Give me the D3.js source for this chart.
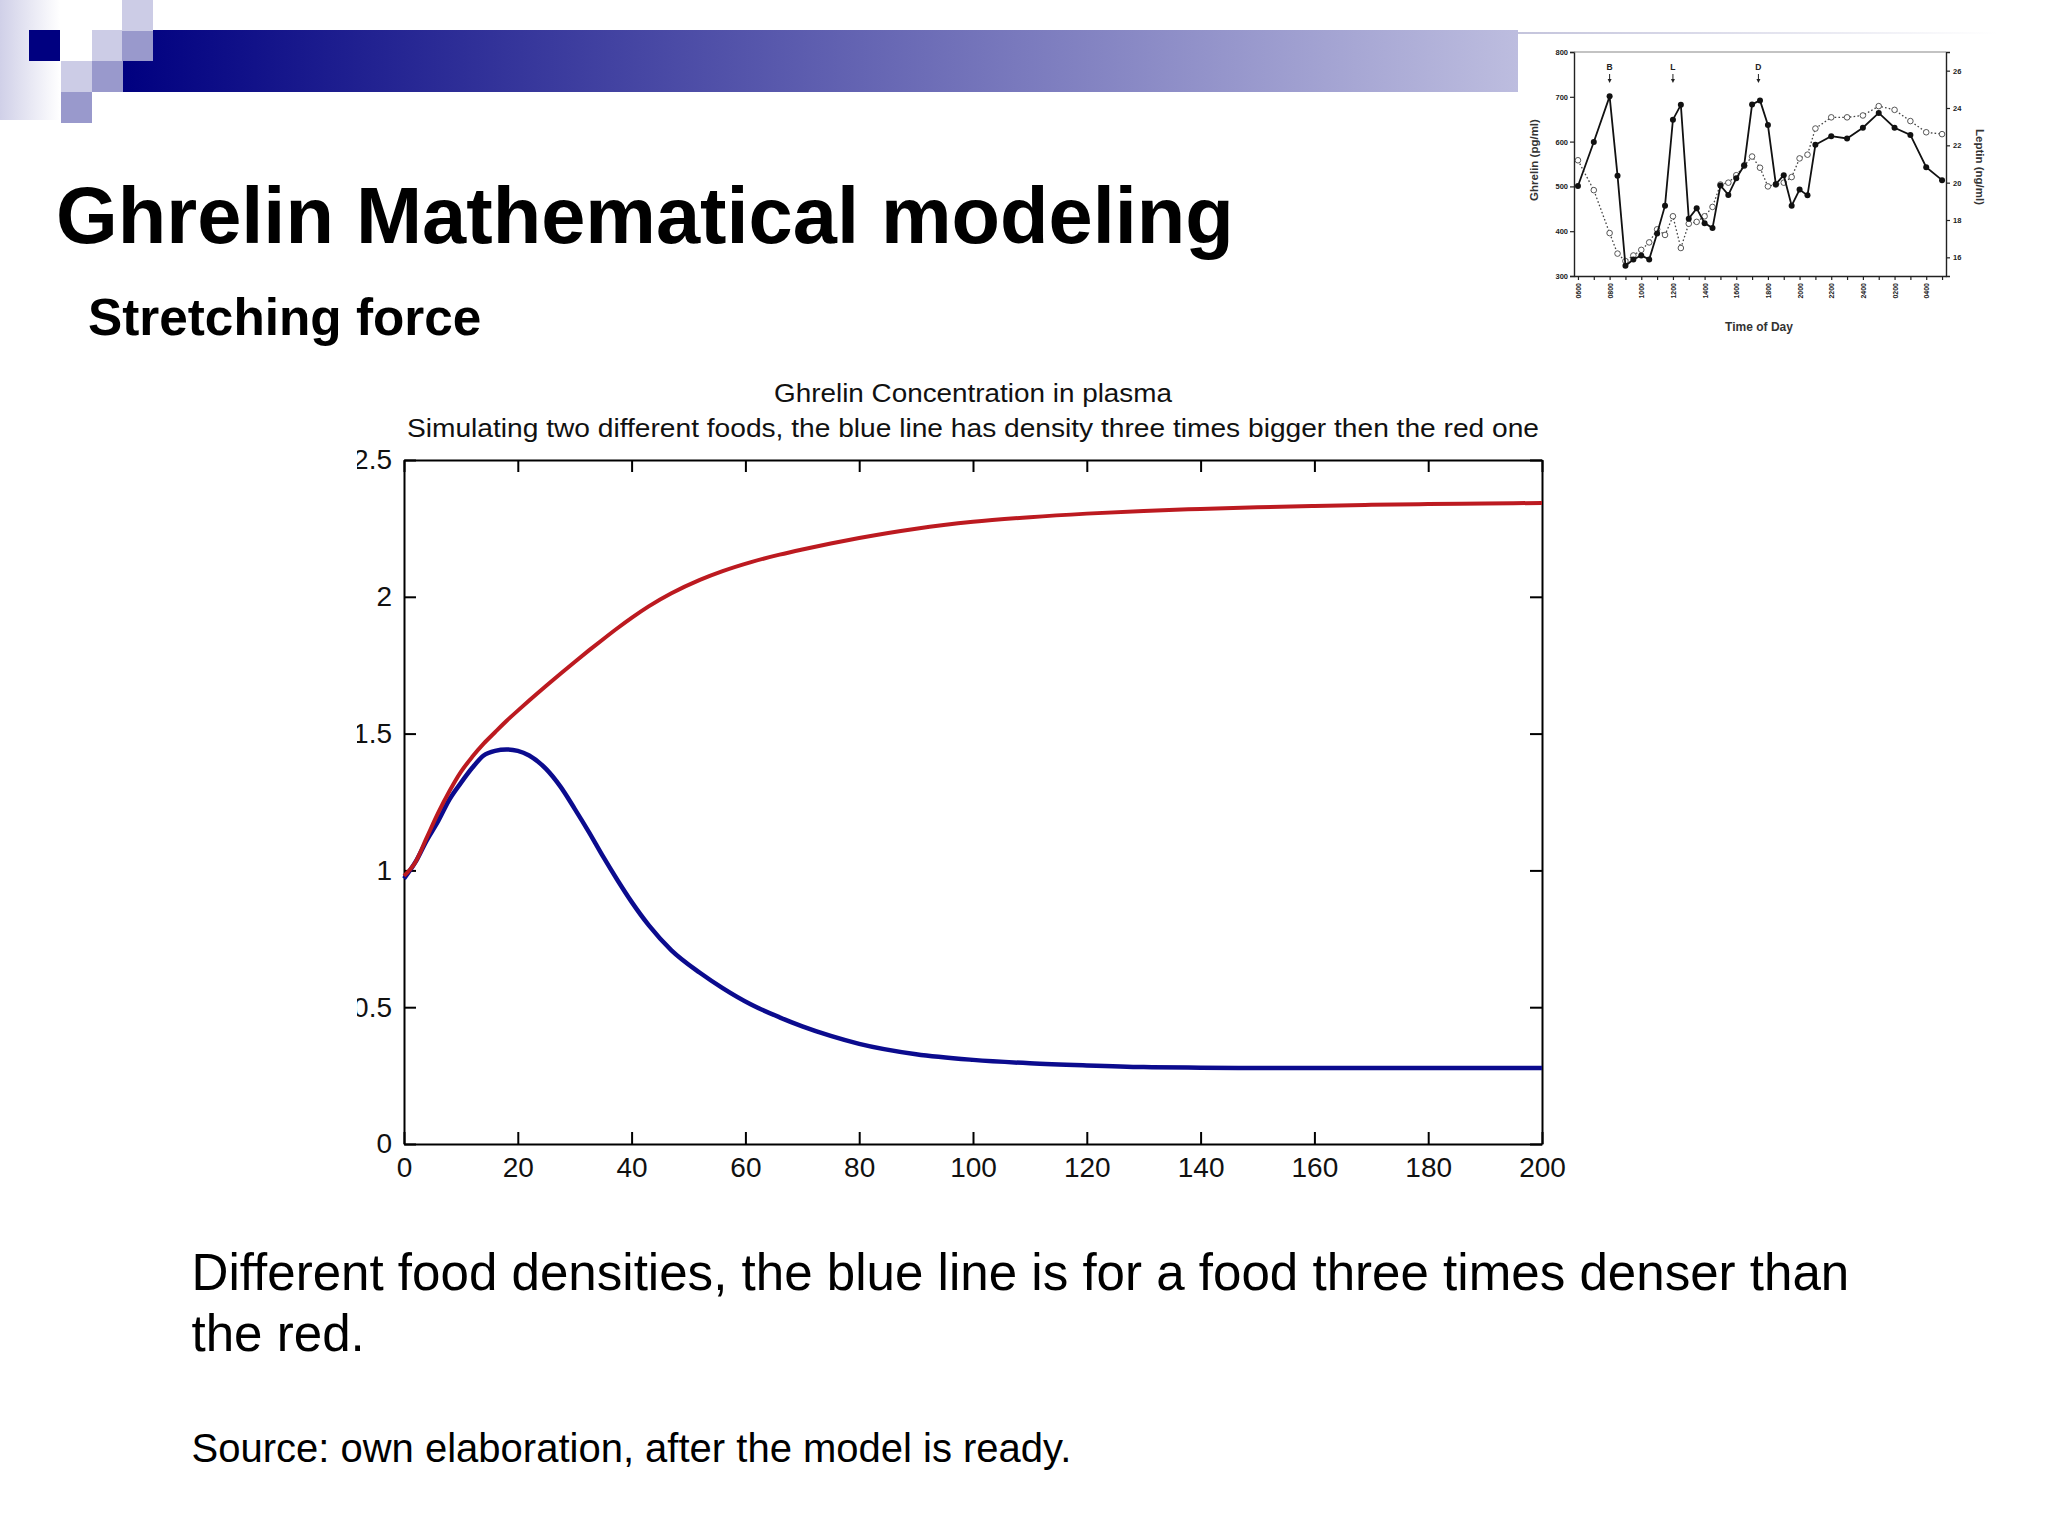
<!DOCTYPE html>
<html>
<head>
<meta charset="utf-8">
<script src="https://cdn.jsdelivr.net/npm/d3@7"></script>
<style>
html, body { margin: 0; padding: 0; background: #ffffff; }
svg { display: block; }
</style>
</head>
<body>
<svg id="slide" width="2048" height="1536"></svg>
<script>
// ---------------- DATA ----------------
// Main chart: simulated ghrelin concentration in plasma
const simTime = [0, 2, 4, 6, 8, 10, 12, 14, 16, 18, 20, 22, 25, 27.5, 30, 32.5, 35, 37.5, 40, 43, 47, 52, 56, 61, 66, 70, 75, 80, 90, 100, 110, 120, 130, 140, 150, 160, 170, 180, 190, 200];
const redFood  = [0.98, 1.03, 1.12, 1.21, 1.29, 1.36, 1.415, 1.463, 1.505, 1.546, 1.584, 1.621, 1.675, 1.719, 1.762, 1.804, 1.845, 1.885, 1.923, 1.965, 2.013, 2.062, 2.094, 2.127, 2.154, 2.173, 2.195, 2.215, 2.249, 2.274, 2.291, 2.304, 2.314, 2.321, 2.327, 2.332, 2.336, 2.339, 2.341, 2.343];
const blueFood = [0.97, 1.03, 1.11, 1.18, 1.26, 1.32, 1.375, 1.42, 1.437, 1.442, 1.437, 1.42, 1.37, 1.306, 1.225, 1.14, 1.05, 0.965, 0.885, 0.80, 0.708, 0.626, 0.570, 0.510, 0.463, 0.43, 0.395, 0.366, 0.328, 0.3075, 0.295, 0.287, 0.281, 0.279, 0.278, 0.278, 0.278, 0.278, 0.278, 0.278];
const xTicks = [0, 20, 40, 60, 80, 100, 120, 140, 160, 180, 200];
const xTickLabels = ["0", "20", "40", "60", "80", "100", "120", "140", "160", "180", "200"];
const yTicks = [0, 0.5, 1, 1.5, 2, 2.5];
const yTickLabels = ["0", "0.5", "1", "1.5", "2", "2.5"];
const chartTitle1 = "Ghrelin Concentration in plasma";
const chartTitle2 = "Simulating two different foods, the blue line has density three times bigger then the red one";

// Inset chart: ghrelin & leptin over the day
const insetHours = [6, 7, 8, 8.5, 9, 9.5, 10, 10.5, 11, 11.5, 12, 12.5, 13, 13.5, 14, 14.5, 15, 15.5, 16, 16.5, 17, 17.5, 18, 18.5, 19, 19.5, 20, 20.5, 21, 22, 23, 24, 25, 26, 27, 28, 29];
const ghrelinValues = [501, 599, 701, 524, 323, 337, 346, 337, 395, 457, 649, 682, 428, 451, 418, 407, 502, 481, 518, 547, 683, 692, 637, 505, 525, 457, 493, 480, 593, 612, 607, 631, 664, 631, 615, 543, 514];
const leptinValues = [21.2, 19.6, 17.3, 16.2, 15.8, 16.1, 16.4, 16.8, 17.5, 17.2, 18.2, 16.5, 17.8, 17.9, 18.2, 18.7, 19.9, 20.0, 20.4, 20.9, 21.4, 20.8, 19.8, 19.9, 20.0, 20.3, 21.3, 21.5, 22.9, 23.5, 23.5, 23.6, 24.1, 23.9, 23.3, 22.7, 22.6];
const ghrelinTicks = [300, 400, 500, 600, 700, 800];
const leptinTicks = [16, 18, 20, 22, 24, 26];
const hourTicks = [6, 7, 8, 9, 10, 11, 12, 13, 14, 15, 16, 17, 18, 19, 20, 21, 22, 23, 24, 25, 26, 27, 28, 29];
const hourLabelAt = [6, 8, 10, 12, 14, 16, 18, 20, 22, 24, 26, 28];
const hourLabels = ["0600", "0800", "1000", "1200", "1400", "1600", "1800", "2000", "2200", "2400", "0200", "0400"];
const mealNames = ["B", "L", "D"];
const mealHours = [8, 12, 17.4];

// Slide texts
const slideTitle = "Ghrelin Mathematical modeling";
const slideSubtitle = "Stretching force";
const noteLines = ["Different food densities, the blue line is for a food three times denser than", "the red."];
const sourceLine = "Source: own elaboration, after the model is ready.";

// ---------------- DRAW ----------------
const svg = d3.select("#slide");
const defs = svg.append("defs");
const FONT = "'Liberation Sans', Arial, Helvetica, sans-serif";

// Background
svg.append("rect").attr("x", 0).attr("y", 0).attr("width", 2048).attr("height", 1536).attr("fill", "#ffffff");

// Banner gradient
const bannerGrad = defs.append("linearGradient").attr("id", "bannerGrad").attr("x1", "0%").attr("x2", "100%").attr("y1", "0%").attr("y2", "0%");
bannerGrad.append("stop").attr("offset", "0%").attr("stop-color", "#000080");
bannerGrad.append("stop").attr("offset", "100%").attr("stop-color", "#BDBDDF");
svg.append("rect").attr("x", 122).attr("y", 30).attr("width", 1518 - 122).attr("height", 62).attr("fill", "url(#bannerGrad)");

// Left fade
const leftFade = defs.append("linearGradient").attr("id", "leftFade").attr("x1", "0%").attr("x2", "100%");
leftFade.append("stop").attr("offset", "0%").attr("stop-color", "#D0D0E8");
leftFade.append("stop").attr("offset", "100%").attr("stop-color", "#ffffff");
svg.append("rect").attr("x", 0).attr("y", 0).attr("width", 60).attr("height", 120).attr("fill", "url(#leftFade)");

// Decorative squares
const squares = [
  [29, 30, "#000080"], [92, 30, "#CCCCE6"], [122, 30, "#9999CC"], [122, 0, "#CCCCE6"],
  [61, 61, "#CCCCE6"], [92, 61, "#9999CC"], [61, 92, "#9999CC"]
];
svg.selectAll("rect.sq").data(squares).enter().append("rect").attr("class", "sq")
  .attr("x", d => d[0]).attr("y", d => d[1]).attr("width", 31).attr("height", 31).attr("fill", d => d[2]);

// Slide title & subtitle
svg.append("text").attr("x", 56).attr("y", 243).attr("font-family", FONT).attr("font-weight", "bold")
  .attr("font-size", 79.4).attr("fill", "#000").text(slideTitle);
svg.append("text").attr("x", 88).attr("y", 335).attr("font-family", FONT).attr("font-weight", "bold")
  .attr("font-size", 51.3).attr("fill", "#000").text(slideSubtitle);

// Bottom notes
noteLines.forEach((t, i) => {
  svg.append("text").attr("x", 191.5).attr("y", 1290 + i * 61).attr("font-family", FONT)
    .attr("font-size", 51.1).attr("fill", "#000").text(t);
});
svg.append("text").attr("x", 191.5).attr("y", 1462).attr("font-family", FONT)
  .attr("font-size", 40).attr("fill", "#000").text(sourceLine);

// ---------- Main chart ----------
const M = { left: 404, right: 1542, top: 460, bottom: 1144 };
const x = d3.scaleLinear().domain([0, 200]).range([M.left, M.right]);
const y = d3.scaleLinear().domain([0, 2.5]).range([M.bottom, M.top]);

defs.append("clipPath").attr("id", "chartClip").append("rect")
  .attr("x", 357).attr("y", 0).attr("width", 1691).attr("height", 1536);

const chart = svg.append("g").attr("clip-path", "url(#chartClip)");

function styleAxis(g) {
  g.selectAll(".domain").attr("stroke", "#000").attr("stroke-width", 2);
  g.selectAll(".tick line").attr("stroke", "#000").attr("stroke-width", 2);
  g.selectAll(".tick text").attr("font-family", FONT).attr("font-size", 28).attr("fill", "#111");
}

const gBottom = chart.append("g").attr("transform", `translate(0,${M.bottom})`)
  .call(d3.axisBottom(x).tickValues(xTicks).tickFormat((d, i) => xTickLabels[i]).tickSizeInner(-12).tickSizeOuter(0).tickPadding(13));
styleAxis(gBottom);
const gTop = chart.append("g").attr("transform", `translate(0,${M.top})`)
  .call(d3.axisTop(x).tickValues(xTicks).tickFormat("").tickSizeInner(-12).tickSizeOuter(0));
styleAxis(gTop);
const gLeft = chart.append("g").attr("transform", `translate(${M.left},0)`)
  .call(d3.axisLeft(y).tickValues(yTicks).tickFormat((d, i) => yTickLabels[i]).tickSizeInner(-12).tickSizeOuter(0).tickPadding(12));
styleAxis(gLeft);
const gRight = chart.append("g").attr("transform", `translate(${M.right},0)`)
  .call(d3.axisRight(y).tickValues(yTicks).tickFormat("").tickSizeInner(-12).tickSizeOuter(0));
styleAxis(gRight);

// Chart titles
chart.append("text").attr("x", (M.left + M.right) / 2).attr("y", 402).attr("text-anchor", "middle")
  .attr("font-family", FONT).attr("font-size", 25).attr("fill", "#111")
  .attr("textLength", 398).attr("lengthAdjust", "spacingAndGlyphs").text(chartTitle1);
chart.append("text").attr("x", (M.left + M.right) / 2).attr("y", 437).attr("text-anchor", "middle")
  .attr("font-family", FONT).attr("font-size", 25).attr("fill", "#111")
  .attr("textLength", 1132).attr("lengthAdjust", "spacingAndGlyphs").text(chartTitle2);

// Lines
const line = d3.line().curve(d3.curveMonotoneX);
const bluePts = simTime.map((t, i) => [x(t), y(blueFood[i])]);
const redPts = simTime.map((t, i) => [x(t), y(redFood[i])]);
chart.append("path").attr("d", line(bluePts)).attr("fill", "none").attr("stroke", "#0B0B8E").attr("stroke-width", 4.5).attr("stroke-linejoin", "round");
chart.append("path").attr("d", line(redPts)).attr("fill", "none").attr("stroke", "#BC1A20").attr("stroke-width", 4).attr("stroke-linejoin", "round");

// ---------- Inset chart ----------
const inset = svg.append("g");
const ix = d3.scaleLinear().domain([5.75, 29.25]).range([1574, 1946]);
const iyG = d3.scaleLinear().domain([300, 800]).range([276, 52]);
const iyL = d3.scaleLinear().domain([15, 27]).range([276, 52]);

// faint top border of the inset picture
const insetTopGrad = defs.append("linearGradient").attr("id", "insetTop").attr("x1", "0%").attr("x2", "100%");
insetTopGrad.append("stop").attr("offset", "0%").attr("stop-color", "#C4C4DC");
insetTopGrad.append("stop").attr("offset", "100%").attr("stop-color", "#ffffff");
inset.append("rect").attr("x", 1518).attr("y", 32).attr("width", 480).attr("height", 2).attr("fill", "url(#insetTop)");

function styleInsetAxis(g, size) {
  g.selectAll(".domain").attr("stroke", "#222").attr("stroke-width", 1.4);
  g.selectAll(".tick line").attr("stroke", "#222").attr("stroke-width", 1.2);
  g.selectAll(".tick text").attr("font-family", FONT).attr("font-weight", "bold").attr("font-size", size).attr("fill", "#222");
}
const iLeft = inset.append("g").attr("transform", "translate(1574,0)")
  .call(d3.axisLeft(iyG).tickValues(ghrelinTicks).tickSize(4).tickPadding(2));
styleInsetAxis(iLeft, 7.5);
const iRight = inset.append("g").attr("transform", "translate(1946,0)")
  .call(d3.axisRight(iyL).tickValues(leptinTicks).tickSize(4).tickPadding(3));
styleInsetAxis(iRight, 7.5);
const iBottom = inset.append("g").attr("transform", "translate(0,276)")
  .call(d3.axisBottom(ix).tickValues(hourTicks).tickSize(4).tickSizeOuter(0)
    .tickFormat(d => { const k = hourLabelAt.indexOf(d); return k >= 0 ? hourLabels[k] : ""; }));
styleInsetAxis(iBottom, 7);
iBottom.selectAll(".tick text").attr("transform", "rotate(-90)").attr("text-anchor", "end")
  .attr("x", -7).attr("y", 0).attr("dy", "0.35em");
inset.append("line").attr("x1", 1574).attr("x2", 1946).attr("y1", 52).attr("y2", 52).attr("stroke", "#888").attr("stroke-width", 1.2);

// Leptin (dotted, open circles)
const iLine = d3.line();
inset.append("path").attr("d", iLine(insetHours.map((h, i) => [ix(h), iyL(leptinValues[i])])))
  .attr("fill", "none").attr("stroke", "#444").attr("stroke-width", 1.3).attr("stroke-dasharray", "1.6,2.2");
inset.selectAll("circle.lep").data(insetHours).enter().append("circle").attr("class", "lep")
  .attr("cx", d => ix(d)).attr("cy", (d, i) => iyL(leptinValues[i])).attr("r", 2.8)
  .attr("fill", "#fff").attr("stroke", "#444").attr("stroke-width", 0.9);
// Ghrelin (solid, filled circles)
inset.append("path").attr("d", iLine(insetHours.map((h, i) => [ix(h), iyG(ghrelinValues[i])])))
  .attr("fill", "none").attr("stroke", "#111").attr("stroke-width", 1.8);
inset.selectAll("circle.ghr").data(insetHours).enter().append("circle").attr("class", "ghr")
  .attr("cx", d => ix(d)).attr("cy", (d, i) => iyG(ghrelinValues[i])).attr("r", 3)
  .attr("fill", "#111");

// Meal markers
mealNames.forEach((m, i) => {
  const mx = ix(mealHours[i]);
  inset.append("text").attr("x", mx).attr("y", 70).attr("text-anchor", "middle")
    .attr("font-family", FONT).attr("font-weight", "bold").attr("font-size", 8.5).attr("fill", "#222").text(m);
  inset.append("line").attr("x1", mx).attr("x2", mx).attr("y1", 74).attr("y2", 80).attr("stroke", "#222").attr("stroke-width", 1);
  inset.append("path").attr("d", `M${mx - 2},${79} L${mx + 2},${79} L${mx},${83} Z`).attr("fill", "#222");
});

// Inset axis titles
inset.append("text").attr("transform", "translate(1538,160) rotate(-90)").attr("text-anchor", "middle")
  .attr("font-family", FONT).attr("font-weight", "bold").attr("font-size", 11.5).attr("fill", "#333").text("Ghrelin (pg/ml)");
inset.append("text").attr("transform", "translate(1976,167) rotate(90)").attr("text-anchor", "middle")
  .attr("font-family", FONT).attr("font-weight", "bold").attr("font-size", 11.5).attr("fill", "#333").text("Leptin (ng/ml)");
inset.append("text").attr("x", 1759).attr("y", 331).attr("text-anchor", "middle")
  .attr("font-family", FONT).attr("font-weight", "bold").attr("font-size", 12).attr("fill", "#333").text("Time of Day");
</script>
</body>
</html>
